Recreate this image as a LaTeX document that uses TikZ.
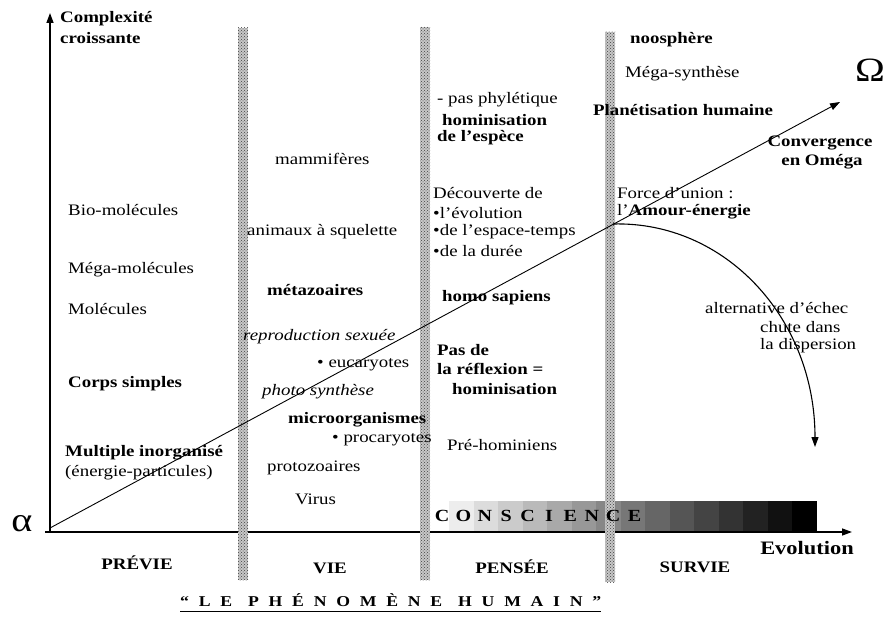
\documentclass[tikz,border=0pt]{standalone}
\usepackage{fontspec}
\setmainfont{Liberation Serif}[FakeStretch=1.18]
\usetikzlibrary{arrows.meta,calc,patterns}
\begin{document}
\begin{tikzpicture}[x=1pt,y=-1pt,
  lbl/.style={anchor=west,inner sep=0pt,font=\fontsize{16}{19}\selectfont},
  blbl/.style={anchor=west,inner sep=0pt,font=\fontsize{16}{19}\selectfont\bfseries},
  ilbl/.style={anchor=west,inner sep=0pt,font=\fontsize{16}{19}\selectfont\itshape},
  clbl/.style={anchor=center,inner sep=0pt,font=\fontsize{16}{19}\selectfont\bfseries},
  greek/.style={anchor=center,inner sep=0pt,font=\fontsize{34}{36}\selectfont},
  axisline/.style={line width=1.4pt,-{Triangle[length=10pt,width=7pt]}},
  diagline/.style={line width=0.9pt,-{Triangle[length=10pt,width=7pt]}},
  stipbar/.style={fill=black!22},
  stipdots/.style={pattern=crosshatch dots,pattern color=black!75},
  spaced/.style={anchor=center,inner sep=0pt,font=\fontsize{17}{19}\selectfont\bfseries}]

\useasboundingbox (0,0) rectangle (885,623);

% gradient bar CONSCIENCE
\foreach \i in {0,...,14}{
  \pgfmathsetmacro\bl{7+93*\i/14}
  \fill[black!\bl] (449+\i*24.53,501) rectangle ++(24.7,31);
}

% axes
\coordinate (org) at (50,532);
\coordinate (ytop) at (50,13);
\coordinate (xl) at (45,532);
\coordinate (xr) at (852,532);
\draw[axisline] (org) -- (ytop);
\draw[axisline] (xl) -- (xr);

% stippled period separators
\foreach \xa/\ya/\yb in {238/28/580, 420/27/580, 605/32/582}{
  \fill[white] (\xa,\ya) rectangle (\xa+10,\yb);
  \fill[stipbar] (\xa,\ya) rectangle (\xa+10,\yb);
  \fill[stipdots] (\xa,\ya) rectangle (\xa+10,\yb);
}

% main evolution line and failure alternative
\coordinate (d0) at (50,528);
\coordinate (d1) at (840,102);
\draw[diagline] (d0) -- (d1);
\coordinate (c0) at (613,224);
\coordinate (c1) at (815,447);
\draw[diagline,line width=1.1pt] (c0) .. controls (725,221) and (815,318) .. (c1);

% greek letters
\node[greek] (alpha) at (22,524) {α};
\node[greek] (omega) at (870,70) {Ω};

% axis titles
\node[blbl] (cx1) at (60,19) {Complexité};
\node[blbl] (cx2) at (60,38) {croissante};
\node[anchor=center,inner sep=0pt,font=\fontsize{19}{22}\selectfont\bfseries] (evo) at (807,548) {Evolution};

% PRÉVIE column
\node[lbl] (p1) at (68,210) {Bio-molécules};
\node[lbl] (p2) at (68,270) {Méga-molécules};
\node[lbl] (p3) at (68,309) {Molécules};
\node[blbl] (p4) at (68,384) {Corps simples};
\node[blbl] (p5) at (65,453) {Multiple inorganisé};
\node[lbl] (p6) at (65,473) {(énergie-particules)};

% VIE column
\node[lbl] (v1) at (275,159) {mammifères};
\node[lbl] (v2) at (247,232) {animaux à squelette};
\node[blbl] (v3) at (267,290) {métazoaires};
\node[ilbl] (v4) at (243,337) {reproduction sexuée};
\node[lbl] (v5) at (317,365) {• eucaryotes};
\node[ilbl] (v6) at (262,392) {photo synthèse};
\node[blbl] (v7) at (288,420) {microorganismes};
\node[lbl] (v8) at (332,440) {• procaryotes};
\node[lbl] (v9) at (267,468) {protozoaires};
\node[lbl] (v10) at (295,499) {Virus};

% PENSÉE column
\node[lbl] (t1) at (437,100) {- pas phylétique};
\node[blbl] (t2) at (442,120) {hominisation};
\node[blbl] (t3) at (437,138) {de l’espèce};
\node[lbl] (t4) at (433,193) {Découverte de};
\node[lbl] (t5) at (433,213) {•l’évolution};
\node[lbl] (t6) at (433,232) {•de l’espace-temps};
\node[lbl] (t7) at (433,251) {•de la durée};
\node[blbl] (t8) at (442,298) {homo sapiens};
\node[blbl] (t9) at (437,350) {Pas de};
\node[blbl] (t10) at (437,369) {la réflexion =};
\node[blbl] (t11) at (452,389) {hominisation};
\node[lbl] (t12) at (447,445) {Pré-hominiens};

% SURVIE column
\node[blbl] (s1) at (630,40) {noosphère};
\node[lbl] (s2) at (625,74) {Méga-synthèse};
\node[blbl] (s3) at (593,110) {Planétisation humaine};
\node[clbl] (s4) at (820,143) {Convergence};
\node[clbl] (s5) at (822,162) {en Oméga};
\node[lbl] (s6) at (617,193) {Force d’union :};
\node[lbl] (s7) at (617,212) {l’\textbf{Amour-énergie}};
\node[lbl] (s8) at (705,308) {alternative d’échec};
\node[lbl] (s9) at (760,327) {chute dans};
\node[lbl] (s10) at (760,346) {la dispersion};

% CONSCIENCE
\foreach \l [count=\i from 0] in {C,O,N,S,C,I,E,N,C,E}{
  \node[spaced] (cs\i) at (442+\i*21.4,516) {\l};
}

% period names
\node[clbl] (e1) at (137,563) {PRÉVIE};
\node[clbl] (e2) at (330,568) {VIE};
\node[clbl] (e3) at (512,567) {PENSÉE};
\node[clbl] (e4) at (695,567) {SURVIE};

% title
\node[anchor=west,inner sep=0pt,font=\fontsize{15}{17}\selectfont\bfseries\addfontfeatures{LetterSpace=65}] (title) at (180,600) {“LE\hspace{16pt}PHÉNOMÈNE\hspace{16pt}HUMAIN”};
\draw[line width=1pt] ($(title.south west)+(0,5)$) -- ($(title.south east)+(0,5)$);
\end{tikzpicture}
\end{document}
